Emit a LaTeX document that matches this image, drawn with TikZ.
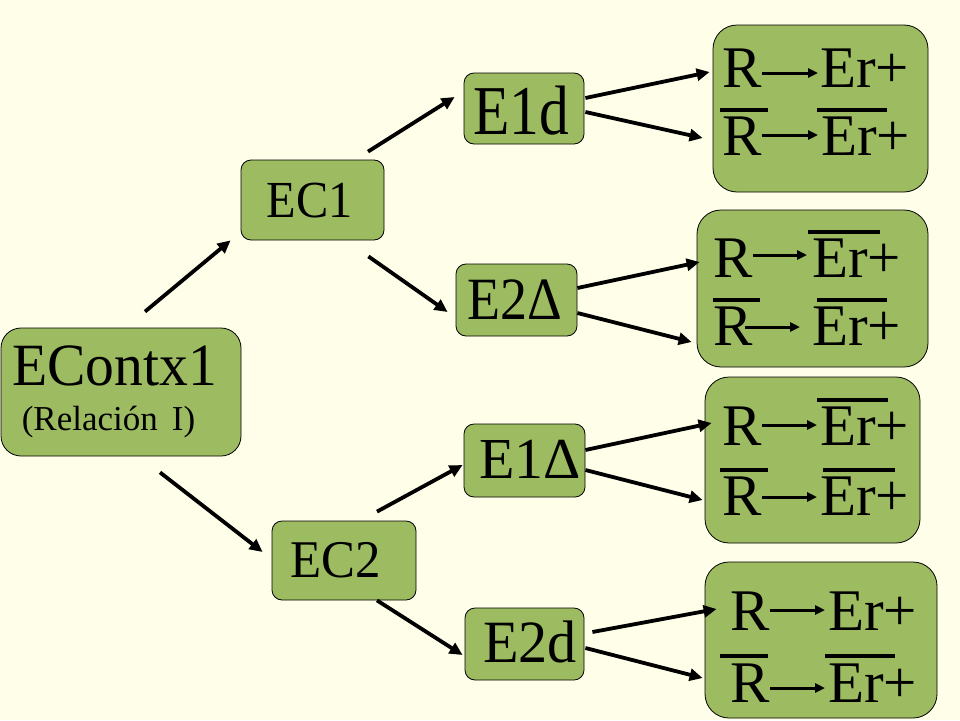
\documentclass[tikz,border=0pt]{standalone}
\usepackage{fontspec}
\setmainfont{Liberation Serif}
\usetikzlibrary{arrows.meta,calc}
\definecolor{bg}{RGB}{255,254,232}
\definecolor{boxgreen}{RGB}{157,187,97}
\tikzset{
  box/.style={draw=black, line width=0.8pt, fill=boxgreen, rounded corners=#1, inner sep=0pt},
  box/.default=10pt,
  lbl/.style={inner sep=0pt, anchor=base},
  conn/.style={line width=3.8pt, -{Triangle[length=13pt,width=12pt]}},
  rowtxt/.style={inner sep=0pt, anchor=base west, font=\fontsize{59}{60}\selectfont},
  inarr/.style={line width=3pt, -{Triangle[length=10pt,width=9pt]}},
  ovl/.style={line width=4pt},
}
\begin{document}
\begin{tikzpicture}[x=1pt,y=-1pt]
\fill[bg] (0,0) rectangle (960,720);
\useasboundingbox (0,0) rectangle (960,720);

% boxes
\node[box=20pt, minimum width=240pt, minimum height=128pt] (E0) at (121,392) {};
\node[box, minimum width=143pt, minimum height=80pt] (EC1) at (312.5,200) {};
\node[box, minimum width=144pt, minimum height=79pt] (EC2) at (344,560.5) {};
\node[box, minimum width=120pt, minimum height=71pt] (E1d) at (524,108.5) {};
\node[box, minimum width=121pt, minimum height=72pt] (E2D) at (516.5,300) {};
\node[box, minimum width=121pt, minimum height=73pt] (E1D) at (524.5,460.5) {};
\node[box, minimum width=119pt, minimum height=72pt] (E2d) at (524.5,644) {};
\node[box=24pt, minimum width=215pt, minimum height=167pt] (BA) at (820.5,108.5) {};
\node[box=24pt, minimum width=231pt, minimum height=157pt] (BB) at (812.5,288.5) {};
\node[box=24pt, minimum width=215pt, minimum height=166pt] (BC) at (812.5,460) {};
\node[box=24pt, minimum width=232pt, minimum height=156pt] (BD) at (821,640) {};

% labels
\node[lbl, font=\fontsize{60}{60}\selectfont] (t0) at (114.5,385) {\scalebox{0.96}[1]{EContx1}};
\node[lbl, font=\fontsize{35}{36}\selectfont] (t0b) at (108.5,430) {(Relación\hspace{0.4em}I)};
\node[lbl, font=\fontsize{52}{52}\selectfont] (tEC1) at (309.5,217) {\scalebox{0.93}[1]{EC1}};
\node[lbl, font=\fontsize{53}{53}\selectfont] (tEC2) at (336,577) {\scalebox{0.96}[1]{EC2}};
\node[lbl, font=\fontsize{70}{70}\selectfont] (tE1d) at (521,134) {\scalebox{0.85}[1]{E1d}};
\node[lbl, font=\fontsize{60}{60}\selectfont] (tE2D) at (514.5,319) {\scalebox{0.9}[1]{E2Δ}};
\node[lbl, font=\fontsize{58}{58}\selectfont] (tE1D) at (530,478) {E1Δ};
\node[lbl, font=\fontsize{60}{60}\selectfont] (tE2d) at (530,662) {\scalebox{0.97}[1]{E2d}};

% main connectors
\draw[conn] ($(E0.north)+(24,-16)$) -- ($(EC1.south west)+(-10,0)$);
\draw[conn] ($(E0.south)+(39,16)$) -- ($(EC2.west)+(-9,-8.5)$);
\draw[conn] ($(EC1.north)+(55.5,-8)$) -- ($(E1d.west)+(-9,-11.5)$);
\draw[conn] ($(EC1.south east)+(-16,16)$) -- ($(E2D.west)+(-8,12)$);
\draw[conn] ($(EC2.north)+(33,-9)$) -- ($(E1D.west)+(-1,4.5)$);
\draw[conn] ($(EC2.south)+(33,0)$) -- ($(E2d.west)+(-2,11)$);
\draw[conn] ($(E1d.east)+(1,-10.5)$) -- ($(BA.west)+(-3,-36.5)$);
\draw[conn] ($(E1d.east)+(1,3.5)$) -- ($(BA.west)+(-10,29.5)$);
\draw[conn] ($(E2D.east)+(0,-12)$) -- ($(BB.west)+(3,-26.5)$);
\draw[conn] ($(E2D.east)+(0,13)$) -- ($(BB.west)+(-5,53.5)$);
\draw[conn] ($(E1D.east)+(0,-10.5)$) -- ($(BC.west)+(7,-37)$);
\draw[conn] ($(E1D.east)+(0,9.5)$) -- ($(BC.west)+(-2,40)$);
\draw[conn] ($(E2d.east)+(8,-12)$) -- ($(BD.west)+(12,-31)$);
\draw[conn] ($(E2d.east)+(1,4)$) -- ($(BD.west)+(-2,38)$);

% box A
\node[rowtxt] (ra1) at (722,87) {R};
\node[rowtxt] (ea1) at (820,87) {Er+};
\draw[inarr] ([yshift=14pt]ra1.base east) -- ([yshift=14pt,xshift=-2pt]ea1.base west);
\node[rowtxt] (ra2) at (722,155) {R};
\node[rowtxt] (ea2) at (821,155) {Er+};
\draw[inarr] ([yshift=20pt]ra2.base east) -- ([yshift=20pt,xshift=-3pt]ea2.base west);
\draw[ovl] ($(ra2.base west)+(-2,-45)$) -- ++(48,0);
\draw[ovl] ($(ea2.base west)+(-4,-45)$) -- ++(70,0);

% box B
\node[rowtxt] (rb1) at (713,277) {R};
\node[rowtxt] (eb1) at (812,277) {Er+};
\draw[inarr] ([yshift=22pt]rb1.base east) -- ([yshift=22pt,xshift=-5pt]eb1.base west);
\draw[ovl] ($(eb1.base west)+(-4,-45)$) -- ++(72,0);
\node[rowtxt] (rb2) at (713,345) {R};
\node[rowtxt] (eb2) at (812,345) {Er+};
\draw[inarr] ([yshift=18pt,xshift=-8pt]rb2.base east) -- ([yshift=18pt,xshift=-12pt]eb2.base west);
\draw[ovl] ($(rb2.base west)+(0,-45)$) -- ++(47,0);
\draw[ovl] ($(eb2.base west)+(5,-45)$) -- ++(70,0);

% box C
\node[rowtxt] (rc1) at (722,445) {R};
\node[rowtxt] (ec1) at (820,445) {Er+};
\draw[inarr] ([yshift=20pt]rc1.base east) -- ([yshift=20pt,xshift=-3pt]ec1.base west);
\draw[ovl] ($(ec1.base west)+(-3,-45)$) -- ++(71,0);
\node[rowtxt] (rc2) at (722,515) {R};
\node[rowtxt] (ec2) at (820,515) {Er+};
\draw[inarr] ([yshift=18pt]rc2.base east) -- ([yshift=18pt,xshift=-3pt]ec2.base west);
\draw[ovl] ($(rc2.base west)+(-2,-45)$) -- ++(48,0);
\draw[ovl] ($(ec2.base west)+(3,-45)$) -- ++(72,0);

% box D
\node[rowtxt] (rd1) at (730,630) {R};
\node[rowtxt] (ed1) at (828,630) {Er+};
\draw[inarr] ([yshift=20pt]rd1.base east) -- ([yshift=20pt,xshift=-3pt]ed1.base west);
\node[rowtxt] (rd2) at (730,702) {R};
\node[rowtxt] (ed2) at (828,702) {Er+};
\draw[inarr] ([yshift=14pt]rd2.base east) -- ([yshift=14pt,xshift=-3pt]ed2.base west);
\draw[ovl] ($(rd2.base west)+(-10,-46)$) -- ++(48,0);
\draw[ovl] ($(ed2.base west)+(-3,-46)$) -- ++(70,0);
\end{tikzpicture}
\end{document}
